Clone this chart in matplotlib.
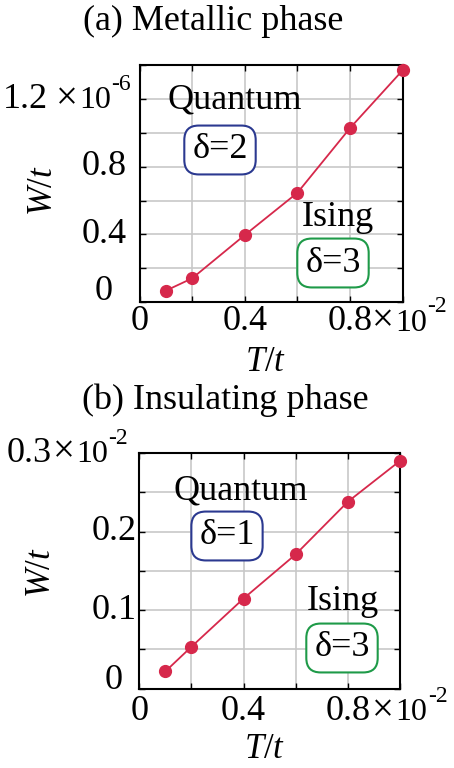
import matplotlib
matplotlib.use("Agg")
import matplotlib.pyplot as plt
import matplotlib.transforms as mtransforms
import numpy as np

plt.rcParams['font.family'] = ['Liberation Serif', 'DejaVu Serif']
plt.rcParams['mathtext.fontset'] = 'custom'
plt.rcParams['mathtext.rm'] = 'Liberation Serif'
plt.rcParams['mathtext.it'] = 'Liberation Serif:italic'

# Data (x in units of 1e-2, y in units shown)
T_vals = [0.1, 0.2, 0.4, 0.6, 0.8, 1.0]
W_metal = [0.067, 0.14, 0.396, 0.646, 1.029, 1.371]   # x1e-6
W_insul = [0.022, 0.0534, 0.1148, 0.171, 0.238, 0.290]  # x1e-2

x_ticks_lab = [0, 0.4, 0.8]
x_ticklabels = ["0", "0.4", "0.8"]

RED = '#d6284b'
BLUE = '#2b3990'
GREEN = '#1e9a48'
FS = 26      # tick labels
FS_X = 23    # "10"
FS_TIMES = 28  # the multiplication sign
FS_SUP = 17  # exponent
FS_T = 26    # titles
FS_A = 26    # annotations
FS_L = 25    # axis labels

W, H = 454, 768
fig = plt.figure(figsize=(W/100, H/100), dpi=100)

def px(x, y):
    return x / W, 1 - y / H

def multiplier(x_times, x_ten, x_exp, y_base, exp_text):
    fig.text(*px(x_times, y_base), '×', ha='center', va='center', fontsize=FS_TIMES)
    fig.text(*px(x_ten, y_base + 1), '10', ha='left', va='center', fontsize=FS_X)
    fig.text(*px(x_exp, y_base - 15), exp_text, ha='left', va='center', fontsize=FS_SUP)

def make_axes(rect_px, yvals, ymax, ystep, ylab_ticks, ylab_texts, ylab_xpx, xlab_ypx):
    l, t, r, b = rect_px
    ax = fig.add_axes([l / W, 1 - b / H, (r - l) / W, (b - t) / H])
    ax.plot(T_vals, yvals, color=RED, lw=1.3, marker='o', ms=8.5, mfc=RED, mec=RED, zorder=3, clip_on=False)
    ax.set_xlim(0, 1.0)
    ax.set_ylim(0, ymax)
    ax.set_xticks(np.arange(0, 1.01, 0.2))
    ax.set_yticks(np.arange(0, ymax + 1e-9, ystep))
    ax.set_xticklabels([])
    ax.set_yticklabels([])
    ax.grid(True, color='#c8c8c8', lw=1.2)
    ax.set_axisbelow(True)
    ax.tick_params(direction='in', top=True, right=True, length=4, width=1.0, color='black')
    for s in ax.spines.values():
        s.set_linewidth(1.5)
    tx = mtransforms.blended_transform_factory(ax.transData, fig.transFigure)
    ty = mtransforms.blended_transform_factory(fig.transFigure, ax.transData)
    for xv, lab in zip(x_ticks_lab, x_ticklabels):
        ax.text(xv, 1 - xlab_ypx / H, lab, transform=tx, ha='center', va='center', fontsize=FS)
    for yv, lab in zip(ylab_ticks, ylab_texts):
        ax.text(ylab_xpx / W, yv, lab, transform=ty, ha='center', va='center', fontsize=FS)
    return ax

box_kw = dict(boxstyle='round,pad=0.22,rounding_size=0.4', fc='white', lw=1.5)

# Panel (a)
ax1 = make_axes((139.5, 65.3, 402.7, 302), W_metal, 1.4, 0.2,
                [0.06, 0.4, 0.8], ["0", "0.4", "0.8"], 104, 322)
multiplier(383, 395, 427, 322, '-2')
fig.text(*px(48, 100), '1.2', ha='right', va='center', fontsize=FS)
multiplier(67, 79, 111, 100, '-6')
fig.text(*px(213, 21), '(a) Metallic phase', ha='center', va='center', fontsize=FS_T)
fig.text(*px(43, 191), r'$W/t$', ha='center', va='center', fontsize=FS_L, rotation=90)
fig.text(*px(266, 362), r'$T/t$', ha='center', va='center', fontsize=FS_L)
fig.text(*px(235, 100), 'Quantum', ha='center', va='center', fontsize=FS_A)
fig.text(*px(220, 150), 'δ=2', ha='center', va='center', fontsize=FS_A, bbox=dict(ec=BLUE, **box_kw))
fig.text(*px(338, 217), 'Ising', ha='center', va='center', fontsize=FS_A)
fig.text(*px(333, 263), 'δ=3', ha='center', va='center', fontsize=FS_A, bbox=dict(ec=GREEN, **box_kw))

# Panel (b)
ax2 = make_axes((139.3, 453, 400, 688.7), W_insul, 0.3, 0.05,
                [0.01, 0.1, 0.2], ["0", "0.1", "0.2"], 114, 712)
multiplier(383, 395, 428, 712, '-2')
fig.text(*px(52, 453), '0.3', ha='right', va='center', fontsize=FS)
multiplier(64, 76, 108, 453, '-2')
fig.text(*px(225, 400), '(b) Insulating phase', ha='center', va='center', fontsize=FS_T)
fig.text(*px(42, 573), r'$W/t$', ha='center', va='center', fontsize=FS_L, rotation=90)
fig.text(*px(265, 749), r'$T/t$', ha='center', va='center', fontsize=FS_L)
fig.text(*px(241, 491), 'Quantum', ha='center', va='center', fontsize=FS_A)
fig.text(*px(227, 536), 'δ=1', ha='center', va='center', fontsize=FS_A, bbox=dict(ec=BLUE, **box_kw))
fig.text(*px(343, 602), 'Ising', ha='center', va='center', fontsize=FS_A)
fig.text(*px(342, 648), 'δ=3', ha='center', va='center', fontsize=FS_A, bbox=dict(ec=GREEN, **box_kw))

fig.savefig('out.png', dpi=100)
